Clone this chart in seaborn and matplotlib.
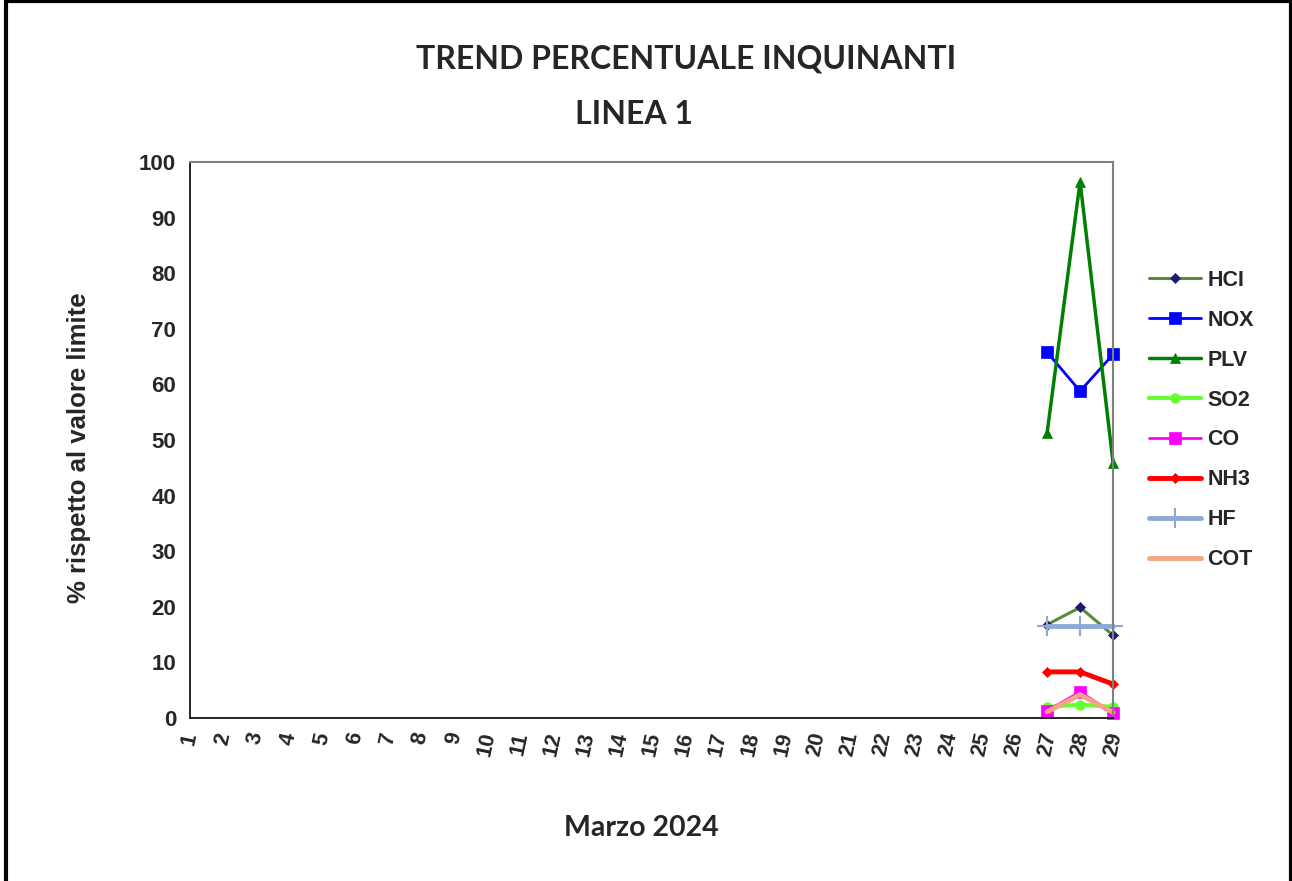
import numpy as np
import pandas as pd
import matplotlib
matplotlib.use('Agg')
import matplotlib.pyplot as plt
import seaborn as sns
from matplotlib.lines import Line2D

sns.set_style('white')
plt.rcParams['font.family'] = ['Liberation Sans', 'DejaVu Sans']

# giorni del mese, dati solo dal 27 al 29
giorni = list(range(1, 30))
giorni_dati = [27, 28, 29]
hcl = [16.8, 19.9, 14.9]
nox = [65.8, 58.8, 65.4]
plv = [51.3, 96.5, 45.9]
so2 = [2.0, 2.4, 2.0]
co = [1.3, 4.7, 0.9]
nh3 = [8.3, 8.3, 6.1]
hf = [16.5, 16.5, 16.5]
cot = [1.1, 4.2, 1.0]

serie = ['HCl', 'NOX', 'PLV', 'SO2', 'CO', 'NH3', 'HF', 'COT']
etichette = ['HCI', 'NOX', 'PLV', 'SO2', 'CO', 'NH3', 'HF', 'COT']
valori = [hcl, nox, plv, so2, co, nh3, hf, cot]

stili = {
    'HCl': dict(color='#5b8a3c', marker='D', ms=5, mfc='#1a1a6e', mec='#1a1a6e', lw=2.2),
    'NOX': dict(color='#0000ff', marker='s', ms=8, lw=2),
    'PLV': dict(color='#008000', marker='^', ms=7, lw=2.5),
    'SO2': dict(color='#66ff33', marker='o', ms=7, lw=3),
    'CO': dict(color='#ff00ff', marker='s', ms=8, lw=2),
    'NH3': dict(color='#ff0000', marker='D', ms=5, lw=3.5),
    'HF': dict(color='#8fa8d8', marker='+', ms=14, mew=1.5, lw=3.5),
    'COT': dict(color='#f4a582', marker=None, lw=3.5),
}

fig = plt.figure(figsize=(12.92, 8.81), dpi=100)
ax = fig.add_axes([0.147, 0.185, 0.7145, 0.631])

for nome, lab, v in zip(serie, etichette, valori):
    df = pd.DataFrame({'giorno': giorni_dati, 'valore': v})
    st = stili[nome]
    sns.lineplot(data=df, x='giorno', y='valore', ax=ax, label=lab,
                 color=st['color'], linewidth=st['lw'], marker=st['marker'],
                 markersize=st.get('ms', 0), markerfacecolor=st.get('mfc', st['color']),
                 markeredgecolor=st.get('mec', st['color']),
                 markeredgewidth=st.get('mew', 0.5), clip_on=False)

ax.set_xlim(1, 29)
ax.set_ylim(0, 100)
ax.set_xticks(giorni)
ax.set_xticklabels([str(g) for g in giorni], rotation=78, fontsize=15.5,
                   fontweight='bold', va='top', ha='center')
ax.set_yticks(range(0, 101, 10))
ax.set_yticklabels([str(t) for t in range(0, 101, 10)], fontsize=16, fontweight='bold')
ax.tick_params(axis='x', direction='out', length=6, color='#808080', pad=3)
ax.tick_params(axis='y', direction='out', length=6, color='black', pad=4)
ax.set_xlabel('')
ax.set_ylabel('% rispetto al valore limite', fontsize=18.5, fontweight='bold')
ax.yaxis.set_label_coords(-0.107, 0.487)

for s in ['left', 'bottom']:
    ax.spines[s].set_color('black')
    ax.spines[s].set_linewidth(1.2)
for s in ['top', 'right']:
    ax.spines[s].set_color('#808080')
    ax.spines[s].set_linewidth(1.5)

leg = ax.legend(loc='upper left', bbox_to_anchor=(1.03, 0.822), frameon=False,
                prop={'weight': 'bold', 'size': 15.5}, handlelength=2.4,
                labelspacing=0.88, handletextpad=0.3, borderaxespad=0)

fig.text(0.531, 0.933, 'TREND PERCENTUALE INQUINANTI', ha='center', va='center',
         fontsize=23, fontweight='bold', family=['Lato', 'DejaVu Sans'])
fig.text(0.491, 0.870, 'LINEA 1', ha='center', va='center',
         fontsize=23, fontweight='bold', family=['Lato', 'DejaVu Sans'])
fig.text(0.496, 0.06, 'Marzo 2024', ha='center', va='center',
         fontsize=20.5, fontweight='bold', family=['Lato', 'DejaVu Sans'])

# cornice del grafico
for xs, ys in [([0.005, 0.005], [0, 0.999]), ([0.005, 0.999], [0.999, 0.999]),
               ([0.999, 0.999], [0, 0.999])]:
    fig.add_artist(Line2D(xs, ys, color='black', lw=3, transform=fig.transFigure))

fig.savefig('out.png', dpi=100)
